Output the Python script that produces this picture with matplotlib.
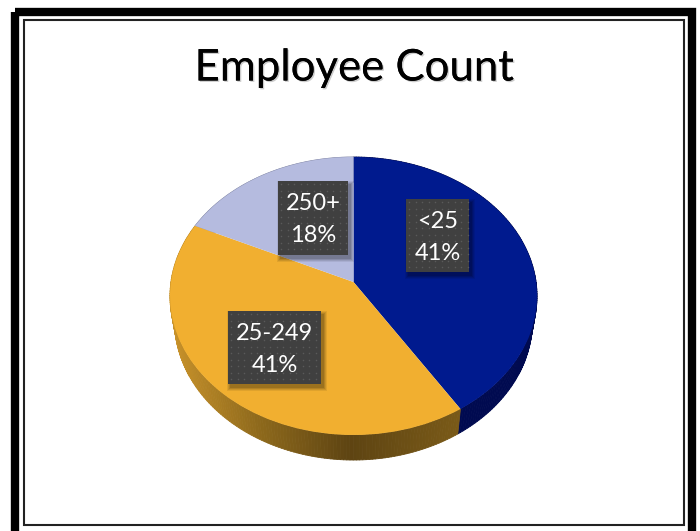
import numpy as np
import matplotlib
matplotlib.use("Agg")
import matplotlib.pyplot as plt
from matplotlib.transforms import Transform
from matplotlib.patches import Rectangle
from matplotlib.collections import PolyCollection
import matplotlib.patheffects as pe
import matplotlib.colors as mcolors

title = "Employee Count"
categories = ["<25", "25-249", "250+"]
shares = [41, 41, 18]
pct_labels = ["41%", "41%", "18%"]
colors = ["#001A8E", "#F1AF30", "#B5BBDF"]

plt.rcParams['font.family'] = ['Lato', 'DejaVu Sans']

KX, KY = 182.6, 137.6
PK = 0.1007
APEX = (353.5, 282.0)


class Perspective(Transform):
    input_dims = 2
    output_dims = 2
    is_separable = False
    has_inverse = False

    def transform_non_affine(self, values):
        v = np.asarray(values, float)
        d = 1 + PK * v[:, 1]
        return np.column_stack((APEX[0] + KX * v[:, 0] / d, APEX[1] - KY * v[:, 1] / d))


persp = Perspective()

fig = plt.figure(figsize=(7, 5.31), dpi=100, facecolor="white")
ax = fig.add_axes([0, 0, 1, 1])

wedges, _ = ax.pie(shares, colors=colors, startangle=90, counterclock=False, radius=1)
ax.set_aspect('auto')
ax.set_xlim(0, 700)
ax.set_ylim(531, 0)
ax.axis('off')

# frame
ax.add_patch(Rectangle((15, 12), 677, 540, fill=False, ec="black", lw=6.0, zorder=1))
ax.add_patch(Rectangle((23.5, 20), 660, 505, fill=False, ec="#222222", lw=1.5, zorder=1))

# side wall: extrusion of the rim, computed from the shares
edges = 90 - 360 * np.cumsum([0] + shares) / sum(shares)
side_dark = ["#000A50", None, "#8E93B0"]
orange_stops = mcolors.LinearSegmentedColormap.from_list(
    "rim", [(0, "#C8922A"), (0.3, "#8F6A1C"), (0.62, "#5E4412"), (1, "#7A5A18")])
DEPTH = 25.0
polys, cols = [], []
for i in range(len(shares)):
    th = np.radians(np.linspace(edges[i], edges[i + 1], 160))
    rim = persp.transform(np.column_stack((np.cos(th), np.sin(th))))
    low = rim.copy()
    low[:, 0] = APEX[0] + (rim[:, 0] - APEX[0]) * 0.975
    low[:, 1] = rim[:, 1] + DEPTH
    for j in range(len(th) - 1):
        polys.append([rim[j], rim[j + 1], low[j + 1], low[j]])
        if side_dark[i] is None:
            cols.append(orange_stops((rim[j, 0] - 170) / (462 - 170)))
        else:
            cols.append(mcolors.to_rgba(side_dark[i]))
ax.add_collection(PolyCollection(polys, facecolors=cols, edgecolors=cols, linewidths=0.6, zorder=2))

for w in wedges:
    w.set_transform(persp + ax.transData)
    w.set_zorder(3)
    w.set_edgecolor("none")

# labels
boxes = [(406, 199, 63, 73), (228, 311, 93, 73), (278, 181, 70, 74)]
for (x, y, bw, bh), cat, pct in zip(boxes, categories, pct_labels):
    for k, a in zip((7, 5, 3, 1), (0.07, 0.09, 0.11, 0.13)):
        ax.add_patch(Rectangle((x + 2 - k / 2, y + 3 - k / 2), bw + k, bh + k, fc="black",
                               ec="none", alpha=a, zorder=4))
    ax.add_patch(Rectangle((x, y), bw, bh, fc="#404040", ec="none", zorder=5))
    gx, gy = np.meshgrid(np.arange(x + 3, x + bw - 1, 6.5), np.arange(y + 3, y + bh - 1, 6.5))
    ax.scatter(gx.ravel(), gy.ravel(), s=1.2, c="#5A5A5A", linewidths=0, zorder=6)
    cx = x + bw / 2
    ax.text(cx, y + 22, cat, color="white", fontsize=17, ha="center", va="center", zorder=7)
    ax.text(cx, y + 55, pct, color="white", fontsize=17, ha="center", va="center", zorder=7)

ax.text(354.5, 68, title, fontsize=31.5, color="black", ha="center", va="center", zorder=7,
        path_effects=[pe.withSimplePatchShadow(offset=(1.0, -1.0), shadow_rgbFace="#999999", alpha=0.5),
                      pe.Normal()])

fig.savefig("out.png", dpi=100, facecolor="white")
